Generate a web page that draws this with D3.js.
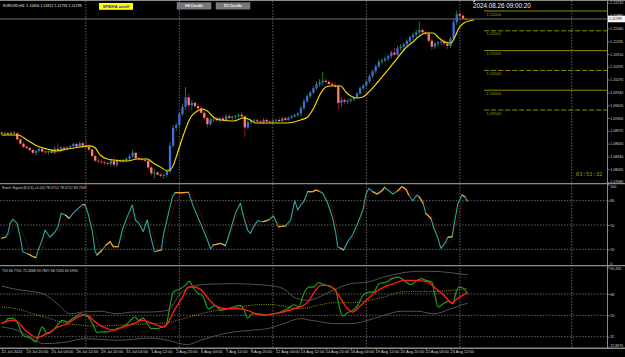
<!DOCTYPE html>
<html><head><meta charset="utf-8">
<script src="https://cdn.jsdelivr.net/npm/d3@7"></script>
<style>html,body{margin:0;padding:0;background:#000;overflow:hidden}svg{display:block}</style>
</head><body><svg id="c" width="625" height="357"></svg>
<script>
// ---------------- DATA ----------------
const symbolTitle = "EURUSD,H4  1.11806 1.11817 1.11792 1.11799";
const bidPrice = 1.11799;
// H4 candles, bar 0 = 22 Jul 12:00 ... bar 149 = 26 Aug 08:00
const opens = [
1.0893,1.0890,1.0892,1.0889,1.0893,1.0891,1.0876,1.0865,1.0857,1.0854,
1.0849,1.0842,1.0847,1.0852,1.0845,1.0843,1.0846,1.0842,1.0852,1.0847,
1.0855,1.0852,1.0856,1.0859,1.0864,1.0858,1.0866,1.0860,1.0857,1.0850,
1.0834,1.0822,1.0820,1.0818,1.0816,1.0814,1.0821,1.0812,1.0822,1.0820,
1.0823,1.0827,1.0833,1.0842,1.0828,1.0826,1.0824,1.0822,1.0805,1.0790,
1.0792,1.0787,1.0784,1.0786,1.0795,1.0860,1.0905,1.0912,1.0940,1.0958,
1.0982,1.0962,1.0968,1.0960,1.0954,1.0943,1.0930,1.0914,1.0926,1.0928,
1.0924,1.0929,1.0925,1.0934,1.0930,1.0933,1.0935,1.0938,1.0934,1.0906,
1.0919,1.0922,1.0924,1.0921,1.0919,1.0925,1.0921,1.0920,1.0923,1.0925,
1.0922,1.0929,1.0925,1.0931,1.0934,1.0937,1.0941,1.0955,1.0972,1.0985,
1.0994,1.1005,1.1015,1.1020,1.1024,1.1021,1.1016,1.1013,1.1010,1.0968,
1.0975,1.0971,1.0974,1.0977,1.0982,1.0992,1.1005,1.1012,1.1022,1.1035,
1.1048,1.1060,1.1072,1.1075,1.1080,1.1086,1.1095,1.1090,1.1106,1.1110,
1.1116,1.1124,1.1134,1.1140,1.1146,1.1152,1.1146,1.1143,1.1125,1.1110,
1.1118,1.1121,1.1123,1.1118,1.1112,1.1130,1.1172,1.1192,1.1188,1.11806];
const highs = [
1.0898,1.0896,1.0895,1.0896,1.0897,1.0894,1.0880,1.0870,1.0861,1.0858,
1.0852,1.0850,1.0856,1.0856,1.0849,1.0848,1.0852,1.0858,1.0866,1.0858,
1.0860,1.0858,1.0862,1.0868,1.0868,1.0870,1.0869,1.0872,1.0862,1.0853,
1.0838,1.0828,1.0825,1.0823,1.0820,1.0826,1.0832,1.0826,1.0826,1.0826,
1.0830,1.0838,1.0849,1.0845,1.0833,1.0830,1.0829,1.0826,1.0810,1.0800,
1.0796,1.0792,1.0790,1.0800,1.0868,1.0912,1.0918,1.0945,1.0965,1.1008,
1.0992,1.0975,1.0972,1.0966,1.0959,1.0947,1.0934,1.0930,1.0932,1.0933,
1.0932,1.0935,1.0939,1.0941,1.0936,1.0938,1.0941,1.0946,1.0937,1.0924,
1.0926,1.0928,1.0929,1.0926,1.0929,1.0930,1.0925,1.0926,1.0928,1.0932,
1.0933,1.0935,1.0933,1.0937,1.0940,1.0945,1.0960,1.0978,1.0990,1.0998,
1.1010,1.1022,1.1028,1.1046,1.1030,1.1026,1.1022,1.1020,1.1015,1.0982,
1.0980,1.0978,1.0980,1.0986,1.0995,1.1010,1.1015,1.1025,1.1040,1.1052,
1.1065,1.1078,1.1080,1.1085,1.1090,1.1100,1.1106,1.1112,1.1116,1.1120,
1.1128,1.1138,1.1146,1.1152,1.1173,1.1158,1.1152,1.1149,1.1130,1.1122,
1.1124,1.1127,1.1128,1.1123,1.1135,1.1180,1.1201,1.1199,1.1194,1.11817];
const lows = [
1.0886,1.0884,1.0887,1.0886,1.0888,1.0873,1.0862,1.0853,1.0850,1.0846,
1.0838,1.0836,1.0843,1.0841,1.0839,1.0837,1.0840,1.0838,1.0840,1.0843,
1.0850,1.0848,1.0852,1.0855,1.0853,1.0856,1.0856,1.0853,1.0846,1.0830,
1.0818,1.0815,1.0813,1.0811,1.0810,1.0808,1.0806,1.0806,1.0817,1.0816,
1.0818,1.0822,1.0828,1.0825,1.0822,1.0820,1.0818,1.0800,1.0784,1.0778,
1.0784,1.0780,1.0777,1.0781,1.0790,1.0855,1.0898,1.0908,1.0935,1.0950,
1.0955,1.0950,1.0956,1.0948,1.0938,1.0924,1.0905,1.0910,1.0920,1.0921,
1.0919,1.0921,1.0921,1.0926,1.0924,1.0927,1.0929,1.0930,1.0882,1.0902,
1.0914,1.0917,1.0919,1.0915,1.0914,1.0918,1.0916,1.0915,1.0918,1.0918,
1.0919,1.0921,1.0923,1.0927,1.0930,1.0932,1.0935,1.0950,1.0968,1.0980,
1.0990,1.1000,1.1008,1.1012,1.1016,1.1012,1.1010,1.1006,1.0950,1.0958,
1.0965,1.0965,1.0968,1.0972,1.0978,1.0988,1.1000,1.1008,1.1018,1.1030,
1.1042,1.1055,1.1065,1.1070,1.1074,1.1080,1.1085,1.1087,1.1100,1.1104,
1.1110,1.1118,1.1126,1.1132,1.1140,1.1142,1.1138,1.1120,1.1101,1.1104,
1.1110,1.1114,1.1114,1.1104,1.1106,1.1125,1.1165,1.1182,1.1178,1.11792];
const closes = [
1.0890,1.0892,1.0889,1.0893,1.0891,1.0876,1.0865,1.0857,1.0854,1.0849,
1.0842,1.0847,1.0852,1.0845,1.0843,1.0846,1.0842,1.0852,1.0847,1.0855,
1.0852,1.0856,1.0859,1.0864,1.0858,1.0866,1.0860,1.0857,1.0850,1.0834,
1.0822,1.0820,1.0818,1.0816,1.0814,1.0821,1.0812,1.0822,1.0820,1.0823,
1.0827,1.0833,1.0842,1.0828,1.0826,1.0824,1.0822,1.0805,1.0790,1.0792,
1.0787,1.0784,1.0786,1.0795,1.0860,1.0905,1.0912,1.0940,1.0958,1.0982,
1.0962,1.0968,1.0960,1.0954,1.0943,1.0930,1.0914,1.0926,1.0928,1.0924,
1.0929,1.0925,1.0934,1.0930,1.0933,1.0935,1.0938,1.0934,1.0906,1.0919,
1.0922,1.0924,1.0921,1.0919,1.0925,1.0921,1.0920,1.0923,1.0925,1.0922,
1.0929,1.0925,1.0931,1.0934,1.0937,1.0941,1.0955,1.0972,1.0985,1.0994,
1.1005,1.1015,1.1020,1.1024,1.1021,1.1016,1.1013,1.1010,1.0968,1.0975,
1.0971,1.0974,1.0977,1.0982,1.0992,1.1005,1.1012,1.1022,1.1035,1.1048,
1.1060,1.1072,1.1075,1.1080,1.1086,1.1095,1.1090,1.1106,1.1110,1.1116,
1.1124,1.1134,1.1140,1.1146,1.1152,1.1146,1.1143,1.1125,1.1110,1.1118,
1.1121,1.1123,1.1118,1.1112,1.1130,1.1172,1.1192,1.1188,1.1181,1.11799];

// yellow moving average [bar, price]
const maLine = [[0,1.08869],[5.2,1.08869],[8.1,1.08743],[11.4,1.08592],[14.6,1.08516],[17.8,1.08465],[21.0,1.08516],[25.2,1.08566],[28.4,1.08592],[30.0,1.08541],[31.6,1.08364],[33.9,1.08263],[35.8,1.08238],[40.3,1.08213],[43.5,1.08263],[46.7,1.08263],[48.6,1.08162],[50.9,1.08061],[53.2,1.07960],[54.8,1.08061],[56.4,1.08415],[58.3,1.08869],[60.5,1.09299],[62.8,1.09475],[64.4,1.09526],[66.0,1.09475],[67.9,1.09324],[70.2,1.09248],[74.4,1.09223],[77.6,1.09299],[79.8,1.09248],[81.4,1.09172],[85.3,1.09172],[91.7,1.09172],[95.9,1.09248],[98.2,1.09324],[100.1,1.09551],[102.4,1.09930],[104.0,1.10081],[105.6,1.10107],[108.8,1.10107],[110.4,1.09955],[112.0,1.09854],[113.6,1.09803],[115.9,1.09829],[117.8,1.09955],[120.7,1.10207],[123.9,1.10511],[126.5,1.10763],[129.0,1.11016],[131.9,1.11218],[134.5,1.11394],[136.1,1.11445],[138.4,1.11445],[140.3,1.11319],[142.2,1.11218],[144.1,1.11192],[145.4,1.11344],[146.7,1.11571],[148.3,1.11697],[149.9,1.11748],[151.5,1.11773]];

// horizontal level lines
const levelPrices = [1.12000,1.11500,1.11000,1.10500,1.10000,1.09500];
const levelDashed = [false,true,false,true,false,true];
const levelStartBar = 154.8;

// price axis ticks
const priceTicks = [1.12210,1.11885,1.11560,1.11235,1.10910,1.10595,1.10270,1.09945,1.09620,1.09300,1.08975,1.08650,1.08330,1.08005,1.07680];

// time axis
const axisBars = [0,8,16,24,32,40,48,56,64,72,80,88,96,104,112,120,128,136,144];
const axisLabels = ["22 Jul 2024","23 Jul 20:00","25 Jul 04:00","26 Jul 12:00","29 Jul 20:00","31 Jul 04:00","1 Aug 12:00","2 Aug 20:00","6 Aug 04:00","7 Aug 12:00","8 Aug 20:00","12 Aug 04:00","13 Aug 12:00","14 Aug 20:00","16 Aug 04:00","19 Aug 12:00","20 Aug 20:00","22 Aug 04:00","23 Aug 12:00"];
const gridBars = [27,57,87,117,147,182.9];

// Stochastic main [bar, value]
const stochMain = [[0,33.6],[1.1,34.8],[2.0,39.7],[2.7,52],[3.6,57],[4.9,52.4],[5.9,35.6],[6.8,17],[8.5,14.2],[10.1,10.9],[11.0,9.7],[11.7,19],[13.0,31.5],[13.9,43.8],[15.5,34.8],[17.1,41.7],[18.1,47.9],[19.1,64.4],[20.4,62.3],[21.6,58.3],[22.9,64.4],[24.5,70.6],[26.1,75.5],[26.8,74.7],[27.7,64.4],[29.0,43.8],[30.0,17],[30.6,13],[32.2,19.1],[33.5,25.3],[34.8,29.4],[35.8,23.2],[37.4,23.2],[38.7,43.8],[40.3,60.3],[41.9,74.7],[42.9,56.2],[44.1,52],[45.4,41.7],[46.7,56.2],[47.7,37.7],[49.0,17],[49.9,17.9],[51.2,19.1],[51.9,37.7],[53.5,64.4],[54.8,85],[55.7,89.9],[58.3,89.9],[59.9,90.4],[61.5,72.6],[63.8,52],[66.0,31.5],[67.0,20.4],[67.9,25.3],[70.2,27.4],[71.8,24.5],[73.4,43.8],[75.0,64.4],[76.6,76.8],[77.6,60.3],[78.9,43.8],[79.8,39.7],[80.8,47.9],[82.1,55.3],[84.0,54.1],[85.6,56.2],[87.2,61.1],[88.8,47.9],[91.1,48.8],[92.7,56.2],[94.0,80],[95.0,68.5],[95.9,74.7],[96.9,78.8],[98.2,91.1],[99.8,91.1],[100.7,93.2],[101.7,92],[103.0,89.1],[104.6,76.8],[106.2,58.3],[107.2,39.7],[107.8,23.2],[108.8,21.2],[109.7,19.1],[111.0,29.4],[112.6,37.7],[114.2,52],[115.9,68.5],[116.8,87],[117.8,95.3],[119.1,91.1],[120.4,88.3],[121.6,91.1],[122.9,96.5],[123.9,93.2],[125.5,88.3],[127.1,92.3],[128.4,97.3],[129.7,94.1],[130.6,87],[131.9,80],[133.2,87],[133.9,85],[135.2,76.8],[136.1,64.4],[137.7,58.3],[138.7,46],[140.0,33.6],[140.9,21.2],[142.2,27.4],[143.2,34.8],[144.5,35.6],[145.4,56.2],[146.4,76.8],[147.7,87],[148.6,85],[149.5,78.8]];
const stochOrangeRuns = [[0,1.1],[8.5,11.0],[20.4,21.6],[26.1,26.8],[30.6,32.2],[33.5,37.4],[49.9,51.2],[55.7,59.9],[67.9,71.8],[84.0,85.6],[88.8,91.1],[98.2,101.7],[108.8,109.7],[119.1,122.9],[127.1,130.6],[133.9,135.2],[136.1,137.7],[143.2,144.5],[147.7,148.6]];
const stochSignal = [[0,38],[2,36],[4,48],[6,45],[8,28],[10,15],[12,14],[14,30],[16,38],[18,42],[20,55],[22,61],[24,66],[26,72],[28,68],[30,40],[32,20],[34,22],[36,26],[38,30],[40,48],[42,64],[44,58],[46,50],[48,44],[50,24],[52,24],[54,55],[56,80],[58,89],[60,90],[62,80],[64,62],[66,40],[68,25],[70,26],[72,28],[74,45],[76,64],[78,64],[80,47],[82,50],[84,55],[86,57],[88,54],[90,50],[92,52],[94,65],[96,74],[98,84],[100,91],[102,92],[104,86],[106,70],[108,40],[110,24],[112,30],[114,42],[116,67],[118,88],[120,92],[122,92],[124,94],[126,91],[128,93],[130,93],[132,86],[134,84],[136,76],[138,60],[140,44],[142,28],[144,30],[146,54],[148,78],[149.5,84]];
const stochLevels = [80,50,20];
const stochTicks = [100,80,50,20,0];

// TDI [bar, value]
const tdiRsi = [[0,43.5],[1.1,44.4],[2.0,47.2],[3.6,47.7],[5.2,42.9],[6.8,33.2],[9.1,30.9],[11.0,27.6],[12.0,34.5],[13.0,40.2],[14.6,34.5],[16.2,36.6],[17.8,41.6],[19.4,45.8],[21.0,44.4],[22.6,47.2],[23.6,48.6],[25.2,51.3],[26.8,50],[27.7,48.6],[29.4,41.6],[30.6,35.5],[32.2,36],[33.9,36],[35.5,37.4],[37.1,38.8],[38.7,40.2],[40.3,42.9],[41.9,47.2],[42.9,48.6],[43.8,45.8],[45.4,47.7],[46.7,42.9],[48.0,38.8],[49.9,38.8],[51.5,40.2],[52.8,42.1],[54.1,59.7],[55.1,69.6],[57.3,72.4],[58.9,75.2],[60.2,78.6],[61.5,73],[63.1,68.2],[64.4,66.8],[66.3,55.5],[68.6,58.4],[70.2,54.2],[72.4,55.5],[74.4,57],[76.6,58.4],[77.6,55.5],[78.9,47.7],[80.5,51.3],[82.4,51.3],[84.7,50.5],[87.2,51.3],[89.5,52.8],[91.7,55.5],[93.7,58.9],[95.3,57],[96.9,68.2],[98.5,73.8],[100.1,73.8],[101.7,77.6],[103.3,75.9],[105.6,73.8],[107.2,71],[108.1,59.7],[109.4,49.4],[111.0,52.2],[112.6,54.2],[114.2,58.4],[115.9,66.8],[117.8,69.6],[119.4,69.6],[121.0,76.6],[123.3,78],[125.5,81.3],[127.4,82.2],[129.0,79.4],[131.3,75.9],[132.9,78.6],[134.5,80.8],[136.1,79.4],[138.0,78],[139.0,66.8],[140.0,57],[141.6,59.7],[143.2,61.8],[144.8,59.7],[145.8,69.6],[146.7,73.8],[148.0,73],[149.5,68.2]];
const tdiSignal = [[0,43.5],[1.7,45],[3.6,45.8],[5.2,44.4],[7.5,37.4],[9.7,33.2],[11.4,30.9],[13.3,33.2],[15.5,36],[18.1,40.2],[21.0,42.9],[23.6,47.2],[26.1,50],[27.4,50],[29.4,45.8],[31.6,41.6],[33.9,38.8],[35.8,37.4],[39.0,40.2],[42.2,42.9],[45.4,45.8],[47.7,43.8],[49.9,41.6],[51.9,40.2],[53.2,42.9],[55.1,52.8],[58.0,65.3],[59.9,73.8],[61.5,73.8],[63.8,71.8],[66.3,64],[69.2,57],[72.4,55.5],[75.7,55.5],[78.9,54.2],[81.4,51.3],[84.0,50],[87.2,51.3],[90.4,52.8],[93.7,55.5],[95.9,57],[98.2,61.1],[100.7,71],[102.4,75.2],[104.6,75.2],[106.5,72.4],[108.8,64],[111.0,55.5],[112.6,52.8],[114.6,57],[117.5,64],[120.0,69.6],[122.6,73.8],[125.8,76.6],[129.0,79.4],[132.9,79.4],[136.8,78],[138.7,73.8],[141.9,66.8],[144.5,60.6],[146.4,64.5],[148.3,67.4],[149.5,68.8]];
const tdiBase = [[0,57],[4.9,55.5],[10.1,51.3],[15.5,47.2],[21.0,42.9],[26.1,41.6],[31.6,41],[37.1,41.6],[42.2,42.1],[47.7,43],[53.2,43.8],[58.3,47.2],[63.8,51.3],[69.2,54.2],[74.4,56.1],[79.8,58.4],[85.3,59.2],[90.4,57.8],[95.9,55.5],[101.4,58.4],[106.5,60.6],[112.0,60.6],[117.5,62.5],[122.6,65.3],[128.1,69.6],[133.5,70.1],[138.7,70.1],[144.1,71],[147.4,71.8],[149.5,72.9]];
const tdiUpper = [[0,74.6],[2.7,72.9],[6.8,71],[13.3,68.2],[17.8,59.7],[22.0,51.3],[26.1,52.8],[31.6,53.4],[37.1,51.3],[42.2,52.8],[47.7,52.8],[53.2,54.2],[57.3,68.2],[61.5,74.6],[66.0,76.1],[74.4,76.6],[85.3,75.2],[90.4,72.4],[93.7,65.4],[98.2,62.6],[102.4,66],[107.0,72],[112.0,76.6],[117.5,78],[122.6,82.2],[128.1,85.5],[133.5,87],[138.7,87],[144.1,85.8],[149.5,84.1]];
const tdiLower = [[0,40.2],[4.9,37.4],[9.1,31.8],[13.3,26.2],[21.0,27.6],[26.1,30.3],[31.6,29.8],[37.1,29],[42.2,29.8],[47.7,30.9],[53.2,29],[59.6,25.3],[63.8,29],[69.2,33.2],[74.4,36],[79.8,37.4],[85.3,38.8],[90.4,43],[95.9,47.2],[99.1,45.8],[101.4,45],[106.5,43],[112.0,43],[117.5,45.8],[122.6,50],[128.1,53.4],[133.5,53.4],[138.7,51.3],[144.1,55.5],[149.5,60.3]];
const tdiLevels = [68,50,32];
const tdiTicks = [90.265,68,50,32,22.8975];
const tdiTickLabels = ["90.265","68","50","32","22.8975"];

const stochTitle = "Stoch Signal (8,3,3) =1.02) 78.0712 78.0712 83.7947";
const tdiTitle = "TDI 66.7701 72.2668 59.7827 68.7026 69.1990";
const serverTime = "2024.08.26 09:00:20";
const barTimer = "03:51:32";

// ---------------- DRAW ----------------
const FONT = "'Liberation Sans', Arial, sans-serif";
const svg = d3.select('#c');
const AXX = 607.5;
const xB = d3.scaleLinear().domain([0,149]).range([1.7,466.1]);
const yP = d3.scaleLinear().domain([1.07657,1.12278]).range([183,0]);
const yS = d3.scaleLinear().domain([0,100]).range([265.5,184.5]);
const yT = d3.scaleLinear().domain([22.5,91.5]).range([348,266]);

svg.append('rect').attr('width',625).attr('height',357).attr('fill','#000');
const defs = svg.append('defs');
function clip(id,y,h){defs.append('clipPath').attr('id',id).append('rect').attr('x',0).attr('y',y).attr('width',AXX).attr('height',h);}
clip('cm',0.8,182); clip('cs',184.4,81); clip('ct',266.2,81.6);

// vertical grid
svg.append('g').selectAll('line').data(gridBars).join('line')
  .attr('x1',d=>xB(d)).attr('x2',d=>xB(d)).attr('y1',1).attr('y2',348)
  .attr('stroke','#7c7c7c').attr('stroke-width',0.8).attr('stroke-dasharray','1.5,1.5');

// main panel
const gm = svg.append('g').attr('clip-path','url(#cm)');
// level lines
gm.selectAll('line.lv').data(levelPrices).join('line')
  .attr('x1',xB(levelStartBar)).attr('x2',AXX).attr('y1',d=>yP(d)).attr('y2',d=>yP(d))
  .attr('stroke','#8f8a00').attr('stroke-width',1)
  .attr('stroke-dasharray',(d,i)=>levelDashed[i]?'5,2':null);
gm.selectAll('text.lv').data(levelPrices).join('text')
  .attr('x',xB(levelStartBar)+2.3).attr('y',d=>yP(d)+4.6)
  .attr('font-size',4).attr('font-family',FONT).attr('fill','#a09a10')
  .text(d=>d.toFixed(5));
// bid line
gm.append('line').attr('x1',0).attr('x2',AXX).attr('y1',yP(bidPrice)).attr('y2',yP(bidPrice))
  .attr('stroke','#6e6e6e').attr('stroke-width',1);

const idx = d3.range(opens.length);
gm.selectAll('line.wk').data(idx).join('line')
  .attr('x1',i=>xB(i)).attr('x2',i=>xB(i)).attr('y1',i=>yP(highs[i])).attr('y2',i=>yP(lows[i]))
  .attr('stroke',i=>closes[i]>=opens[i]?'#1f8f2a':'#a51515').attr('stroke-width',0.9);
gm.selectAll('rect.bd').data(idx).join('rect')
  .attr('x',i=>xB(i)-1.15).attr('width',2.3)
  .attr('y',i=>Math.min(yP(opens[i]),yP(closes[i])))
  .attr('height',i=>Math.max(0.7,Math.abs(yP(opens[i])-yP(closes[i]))))
  .attr('fill',i=>closes[i]>=opens[i]?'#4169e1':'#fa8072');
gm.append('path').datum(maLine)
  .attr('d',d3.line().x(d=>xB(d[0])).y(d=>yP(d[1])).curve(d3.curveMonotoneX))
  .attr('fill','none').attr('stroke','#f2d600').attr('stroke-width',1.2);

// stochastic panel
const gs = svg.append('g').attr('clip-path','url(#cs)');
gs.selectAll('line').data(stochLevels).join('line')
  .attr('x1',0).attr('x2',AXX).attr('y1',d=>yS(d)).attr('y2',d=>yS(d))
  .attr('stroke','#7c7c7c').attr('stroke-width',0.8).attr('stroke-dasharray','1.5,1.5');
const lineS = d3.line().x(d=>xB(d[0])).y(d=>yS(d[1]));
gs.append('path').datum(stochSignal).attr('d',lineS.curve(d3.curveMonotoneX))
  .attr('fill','none').attr('stroke','#8e1a1a').attr('stroke-width',0.8).attr('stroke-dasharray','1,1');
const lineSL = d3.line().x(d=>xB(d[0])).y(d=>yS(d[1]));
gs.append('path').datum(stochMain).attr('d',lineSL)
  .attr('fill','none').attr('stroke','#2aa8a0').attr('stroke-width',1.1).attr('stroke-linejoin','round');
gs.selectAll('path.or').data(stochOrangeRuns.map(r=>stochMain.filter(p=>p[0]>=r[0]-0.01&&p[0]<=r[1]+0.01))).join('path')
  .attr('d',lineSL).attr('fill','none').attr('stroke','#f0a020').attr('stroke-width',1.2).attr('stroke-linecap','round');

// TDI panel
const gt = svg.append('g').attr('clip-path','url(#ct)');
gt.selectAll('line').data(tdiLevels).join('line')
  .attr('x1',0).attr('x2',AXX).attr('y1',d=>yT(d)).attr('y2',d=>yT(d))
  .attr('stroke','#7c7c7c').attr('stroke-width',0.8).attr('stroke-dasharray','1.5,1.5');
const lineT = d3.line().x(d=>xB(d[0])).y(d=>yT(d[1])).curve(d3.curveMonotoneX);
[tdiUpper,tdiLower].forEach(s=>gt.append('path').datum(s).attr('d',lineT)
  .attr('fill','none').attr('stroke','#5a5a5a').attr('stroke-width',0.9));
gt.append('path').datum(tdiBase).attr('d',lineT).attr('fill','none')
  .attr('stroke','#a8a000').attr('stroke-width',0.9).attr('stroke-dasharray','1,1.2');
gt.append('path').datum(tdiRsi).attr('d',lineT).attr('fill','none')
  .attr('stroke','#1e9e1e').attr('stroke-width',1.2);
gt.append('path').datum(tdiSignal).attr('d',lineT).attr('fill','none')
  .attr('stroke','#ff1a1a').attr('stroke-width',1.4);

// separators and frame
const sepY = [0.5,183.6,265.6,348.2];
svg.append('g').selectAll('line').data(sepY).join('line')
  .attr('x1',0).attr('x2',625).attr('y1',d=>d).attr('y2',d=>d)
  .attr('stroke','#8a8a8a').attr('stroke-width',(d,i)=>i===0?1:1.4);
svg.append('line').attr('x1',AXX).attr('x2',AXX).attr('y1',0).attr('y2',348.2)
  .attr('stroke','#8a8a8a').attr('stroke-width',1);

// right axes
function rightAxis(scale, vals, fmt, top, bottom){
  const g = svg.append('g').attr('transform',`translate(${AXX},0)`)
    .call(d3.axisRight(scale).tickValues(vals).tickFormat(fmt).tickSize(2).tickPadding(0.8));
  g.select('.domain').remove();
  g.selectAll('.tick line').attr('stroke','#9a9a9a').attr('stroke-width',0.8);
  g.selectAll('.tick text').attr('fill','#d6d6d6').attr('font-size',3.6).attr('font-family',FONT)
    .attr('y',d=>{const y=scale(d);return y<top+2.3?top+2.3-y:(y>bottom-2.3?bottom-2.3-y:0);});
  return g;
}
rightAxis(yP, priceTicks, d=>d.toFixed(5), 0, 184);
rightAxis(yS, stochTicks, d=>String(d), 184.5, 265.5);
rightAxis(yT, tdiTicks, (d,i)=>tdiTickLabels[i], 266.5, 348);
// bid box
svg.append('rect').attr('x',AXX+0.5).attr('y',yP(bidPrice)-3.3).attr('width',17).attr('height',6.6).attr('fill','#f4f4f4');
svg.append('text').attr('x',AXX+1.5).attr('y',yP(bidPrice)+1.3).attr('font-size',3.6).attr('font-family',FONT)
  .attr('fill','#000').text(bidPrice.toFixed(5));

// time axis
const ta = svg.append('g').attr('transform','translate(0,348.2)')
  .call(d3.axisBottom(xB).tickValues(axisBars).tickFormat((d,i)=>axisLabels[i]).tickSize(1.8).tickPadding(0));
ta.select('.domain').remove();
ta.selectAll('.tick line').attr('stroke','#9a9a9a').attr('stroke-width',0.8);
ta.selectAll('.tick text').attr('text-anchor','start').attr('x',-0.6).attr('y',2.2).attr('dy','0.71em')
  .attr('fill','#d6d6d6').attr('font-size',4).attr('font-family',FONT);

// texts
svg.append('text').attr('x',3).attr('y',6.6).attr('font-size',3.7).attr('font-family',FONT)
  .attr('fill','#e2e2e2').attr('xml:space','preserve').text(symbolTitle);
svg.append('rect').attr('x',99).attr('y',3).attr('width',34).attr('height',6.8).attr('fill','#ffff00');
svg.append('text').attr('x',116).attr('y',7.9).attr('text-anchor','middle').attr('font-size',3.9)
  .attr('font-weight','bold').attr('font-family',FONT).attr('fill','#1a1ad8').text('SPB/HA on/off');
[[177,'H4 Candle'],[216,'D1 Candle']].forEach(b=>{
  svg.append('rect').attr('x',b[0]).attr('y',2.7).attr('width',34).attr('height',6.4).attr('fill','#777')
    .attr('stroke','#9a9a9a').attr('stroke-width',0.4);
  svg.append('text').attr('x',b[0]+17).attr('y',7.4).attr('text-anchor','middle').attr('font-size',3.7)
    .attr('font-weight','bold').attr('font-family',FONT).attr('fill','#f2f2f2').text(b[1]);
});
svg.append('path').attr('d','M472.5,0.5 L475.5,0.5 L474,2.6 Z').attr('fill','#dcdcdc');
svg.append('text').attr('x',473).attr('y',8.4).attr('font-size',6.3).attr('font-family',FONT)
  .attr('fill','#f4f4f4').text(serverTime);
svg.append('text').attr('x',575.8).attr('y',176.2).attr('font-size',5.6).attr('font-family',"'DejaVu Sans Mono', monospace")
  .attr('fill','#9a9410').text(barTimer);
svg.append('text').attr('x',2).attr('y',188.6).attr('font-size',3.6).attr('font-family',FONT)
  .attr('fill','#d6d6d6').text(stochTitle);
svg.append('text').attr('x',2).attr('y',271.6).attr('font-size',3.6).attr('font-family',FONT)
  .attr('fill','#d6d6d6').text(tdiTitle);
</script></body></html>
